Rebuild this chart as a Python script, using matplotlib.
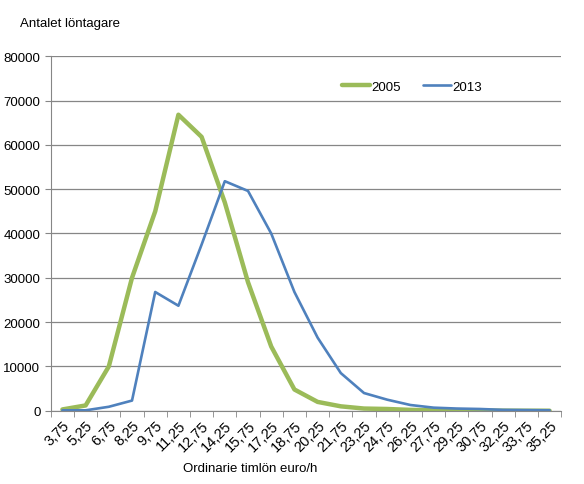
import numpy as np
import matplotlib.pyplot as plt

plt.rcParams['font.family'] = ['Liberation Sans', 'DejaVu Sans']

# timlön klasser (euro/h)
wages = ["3,75", "5,25", "6,75", "8,25", "9,75", "11,25", "12,75", "14,25",
         "15,75", "17,25", "18,75", "20,25", "21,75", "23,25", "24,75", "26,25",
         "27,75", "29,25", "30,75", "32,25", "33,75", "35,25"]

y2005 = [300, 1200, 10000, 30000, 45000, 66800, 61800, 47000,
         29000, 14500, 4800, 2000, 1000, 500, 400, 200,
         100, 50, 30, 20, 10, 10]
y2013 = [100, 100, 900, 2300, 26800, 23700, 37500, 51800,
         49600, 40000, 26800, 16500, 8500, 4000, 2500, 1300,
         700, 500, 400, 200, 150, 100]

fig = plt.figure(figsize=(5.84, 4.85), dpi=100)
ax = fig.add_axes([0.087, 0.151, 0.874, 0.731])

x = np.arange(len(wages))
ax.plot(x, y2005, color='#9BBB59', lw=3.2, label='2005', solid_capstyle='round')
ax.plot(x, y2013, color='#4F81BD', lw=1.9, label='2013', solid_capstyle='round')

ax.set_xlim(-0.5, len(wages) - 0.5)
ax.set_ylim(0, 80000)
ax.set_yticks(range(0, 80001, 10000))
ax.yaxis.grid(True, color='#868686', lw=0.9)
ax.set_axisbelow(True)

ax.set_xticks(x)
ax.set_xticklabels(wages, rotation=45, ha='right', rotation_mode='anchor', fontsize=10.5)
ax.set_xticks(np.arange(-0.5, len(wages), 1), minor=True)
ax.tick_params(axis='x', which='major', length=0, pad=5)
ax.tick_params(axis='x', which='minor', length=4, color='#868686')
ax.tick_params(axis='y', length=4, color='#868686', labelsize=9.5)

for s in ['top', 'right']:
    ax.spines[s].set_visible(False)
for s in ['left', 'bottom']:
    ax.spines[s].set_color('#868686')

ax.set_xlabel('Ordinarie timlön euro/h', fontsize=9.5, labelpad=8)
ax.xaxis.set_label_coords(0.39, -0.145)
fig.text(0.035, 0.945, 'Antalet löntagare', fontsize=9.5)

ax.legend(loc='upper right', bbox_to_anchor=(0.867, 0.965), ncol=2, frameon=False,
          fontsize=9.5, handlelength=2.1, handletextpad=0.1, columnspacing=1.7)

fig.savefig('out.png', dpi=100)
